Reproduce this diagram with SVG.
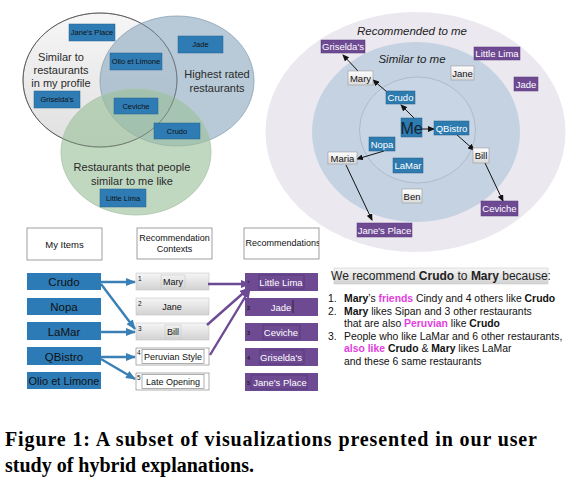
<svg xmlns="http://www.w3.org/2000/svg" width="577" height="495" viewBox="0 0 577 495">
<defs>
<style>
text{font-family:"Liberation Sans",Arial,sans-serif}
.vlab{font-size:11px;fill:#2a2a2a;text-anchor:middle}
.vbox{fill:#2f7bb4;stroke:#26648f;stroke-width:0.5}
.vtxt{font-size:7.5px;fill:#111;text-anchor:middle}
.bbox{fill:#2e7bb0;stroke:#245f88;stroke-width:0.5}
.btxt{font-size:9.5px;fill:#fff;text-anchor:middle}
.pbox{fill:#6e4a93;stroke:#593a7a;stroke-width:0.5}
.ptxt{font-size:9.5px;fill:#fff;text-anchor:middle}
.wbox{fill:url(#wg);stroke:#9a9a9a;stroke-width:0.6}
.wtxt{font-size:9.5px;fill:#111;text-anchor:middle}
.ital{font-size:11.5px;font-style:italic;fill:#222;text-anchor:middle}
.blk{stroke:#111;stroke-width:1;fill:none;marker-end:url(#ak)}
.hdr{fill:#fff;stroke:#888;stroke-width:0.8}
.htxt{font-size:9px;fill:#111;text-anchor:middle}
.item{fill:#2c7bb6}
.itxt{font-size:11.5px;fill:#111;text-anchor:middle}
.ctx{fill:url(#cg);stroke:#bdbdbd;stroke-width:0.5}
.cbtn{fill:none;stroke:#c8c8c8;stroke-width:0.6}
.ctxw{fill:#fff;stroke:#8a8a8a;stroke-width:0.7}
.ctxt{font-size:9px;fill:#111;text-anchor:middle}
.num{font-size:6.5px;fill:#111}
.pnum{font-size:5.5px;fill:#222;font-weight:bold}
.rec{fill:#6d4a92}
.rbtn{fill:none;stroke:#4e3270;stroke-width:0.6}
.barr{stroke:#3a80b4;stroke-width:2.4;fill:none;marker-end:url(#ab)}
.parr{stroke:#6d4a94;stroke-width:2.4;fill:none;marker-end:url(#ap)}
.list{font-size:10.4px;fill:#111}
.b{font-weight:bold}
.m{font-weight:bold;fill:#e23ee0}
.cap{font-family:"Liberation Serif","Times New Roman",serif;font-weight:bold;font-size:20px;fill:#000}
</style>
<linearGradient id="wg" x1="0" y1="0" x2="0" y2="1"><stop offset="0" stop-color="#ffffff"/><stop offset="1" stop-color="#d9d9d9"/></linearGradient>
<linearGradient id="cg" x1="0" y1="0" x2="0" y2="1"><stop offset="0" stop-color="#f6f6f6"/><stop offset="1" stop-color="#d2d2d2"/></linearGradient>
<linearGradient id="g1" x1="0" y1="0" x2="0" y2="1"><stop offset="0" stop-color="#f6f6f6"/><stop offset="1" stop-color="#e0e0e0"/></linearGradient>
<marker id="ak" markerWidth="7" markerHeight="6" refX="6" refY="3" orient="auto" markerUnits="userSpaceOnUse"><path d="M0,0 L7,3 L0,6 z" fill="#111"/></marker>
<marker id="ab" markerWidth="10" markerHeight="8" refX="9" refY="4" orient="auto" markerUnits="userSpaceOnUse"><path d="M0,0 L10,4 L0,8 z" fill="#3a80b4"/></marker>
<marker id="ap" markerWidth="10" markerHeight="8" refX="9" refY="4" orient="auto" markerUnits="userSpaceOnUse"><path d="M0,0 L10,4 L0,8 z" fill="#6d4a94"/></marker>
<clipPath id="hc"><rect x="244" y="228" width="75" height="31"/></clipPath>
</defs>

<!-- Venn diagram -->
<g id="venn">
<ellipse cx="100" cy="80" rx="77" ry="67" fill="url(#g1)" stroke="#666" stroke-width="1"/>
<ellipse cx="177" cy="81" rx="77" ry="65" fill="#93aec4" fill-opacity="0.66" stroke="#8aa0b3" stroke-width="0.8"/>
<ellipse cx="136" cy="152" rx="75" ry="63" fill="#9cc09c" fill-opacity="0.64" stroke="#a9c4a9" stroke-width="0.8"/>
<ellipse cx="100" cy="80" rx="77" ry="67" fill="none" stroke="#555" stroke-width="0.8" stroke-opacity="0.6"/>
<text class="vlab" x="61" y="61">Similar to</text>
<text class="vlab" x="61" y="74">restaurants</text>
<text class="vlab" x="61" y="87">in my profile</text>
<text class="vlab" x="217" y="78">Highest rated</text>
<text class="vlab" x="217" y="92">restaurants</text>
<text class="vlab" x="132" y="171">Restaurants that people</text>
<text class="vlab" x="132" y="185">similar to me like</text>
</g>
<g id="v-janes-place"><rect class="vbox" x="69" y="24" width="46" height="17"/><text class="vtxt" x="92" y="35">Jane's Place</text></g>
<g id="v-jade"><rect class="vbox" x="178" y="36" width="45" height="17"/><text class="vtxt" x="200.5" y="47">Jade</text></g>
<g id="v-olio"><rect class="vbox" x="110" y="53" width="52" height="17"/><text class="vtxt" x="136" y="64">Olio et Limone</text></g>
<g id="v-griselda"><rect class="vbox" x="34" y="91" width="46" height="17"/><text class="vtxt" x="57" y="102">Griselda's</text></g>
<g id="v-ceviche"><rect class="vbox" x="114" y="98" width="44" height="16"/><text class="vtxt" x="136" y="109">Ceviche</text></g>
<g id="v-crudo"><rect class="vbox" x="154" y="123" width="46" height="16"/><text class="vtxt" x="177" y="134">Crudo</text></g>
<g id="v-little-lima"><rect class="vbox" x="100" y="189" width="46" height="18"/><text class="vtxt" x="123" y="201">Little Lima</text></g>

<!-- Social circles -->
<g id="rings">
<ellipse cx="415.5" cy="132" rx="150" ry="120" fill="#ebe8f0"/>
<ellipse cx="416" cy="132" rx="104" ry="90" fill="#c4d2e2"/>
<ellipse cx="417.5" cy="130" rx="58" ry="53" fill="#c8d5e4" stroke="#a8b4c3" stroke-width="0.8"/>
<text class="ital" x="412" y="35">Recommended to me</text>
<text class="ital" x="412" y="63">Similar to me</text>
</g>
<g id="connectors-social">
<line class="blk" x1="387" y1="92" x2="373" y2="80"/>
<line class="blk" x1="358" y1="71" x2="343" y2="55"/>
<line class="blk" x1="414" y1="118" x2="401" y2="105"/>
<line class="blk" x1="422" y1="129" x2="434" y2="129"/>
<line class="blk" x1="456" y1="134" x2="474" y2="150"/>
<line class="blk" x1="485" y1="163" x2="503" y2="201"/>
<line class="blk" x1="384" y1="151" x2="357" y2="159"/>
<line class="blk" x1="346" y1="165" x2="372" y2="220"/>
</g>
<g id="s-griselda"><rect class="pbox" x="321" y="40" width="44" height="13"/><text class="ptxt" x="343" y="50">Griselda's</text></g>
<g id="s-little-lima"><rect class="pbox" x="474" y="47" width="46" height="13"/><text class="ptxt" x="497" y="57">Little Lima</text></g>
<g id="s-jade"><rect class="pbox" x="514" y="77" width="24" height="14"/><text class="ptxt" x="526" y="87.5">Jade</text></g>
<g id="s-jane"><rect class="wbox" x="451" y="66" width="23" height="14"/><text class="wtxt" x="462.5" y="76.5">Jane</text></g>
<g id="s-mary"><rect class="wbox" x="348" y="71" width="25" height="14"/><text class="wtxt" x="360.5" y="81.5">Mary</text></g>
<g id="s-crudo"><rect class="bbox" x="386" y="91" width="29" height="13"/><text class="btxt" x="400.5" y="101">Crudo</text></g>
<g id="s-me"><rect class="bbox" x="401" y="118" width="21" height="19"/><text x="411.5" y="133.5" style="font-size:16px;fill:#142436;text-anchor:middle">Me</text></g>
<g id="s-qbistro"><rect class="bbox" x="434" y="121" width="35" height="14"/><text class="btxt" x="451.5" y="131.5">QBistro</text></g>
<g id="s-nopa"><rect class="bbox" x="369" y="137" width="26" height="14"/><text class="btxt" x="382" y="147.5">Nopa</text></g>
<g id="s-lamar"><rect class="bbox" x="393" y="158" width="30" height="15"/><text class="btxt" x="408" y="169">LaMar</text></g>
<g id="s-maria"><rect class="wbox" x="328" y="152" width="29" height="12"/><text class="wtxt" x="342.5" y="161.5">Maria</text></g>
<g id="s-bill"><rect class="wbox" x="473" y="148" width="16" height="15"/><text class="wtxt" x="481" y="159">Bill</text></g>
<g id="s-ben"><rect class="wbox" x="402" y="189" width="20" height="14"/><text class="wtxt" x="412" y="199.5">Ben</text></g>
<g id="s-ceviche"><rect class="pbox" x="481" y="201" width="37" height="15"/><text class="ptxt" x="499.5" y="212">Ceviche</text></g>
<g id="s-janes-place"><rect class="pbox" x="357" y="223" width="55" height="14"/><text class="ptxt" x="384.5" y="233.5">Jane's Place</text></g>

<!-- Bottom-left: items, contexts, recommendations -->
<g id="h-my-items"><rect class="hdr" x="27" y="228" width="75" height="32"/><text class="htxt" x="64.5" y="247.5" style="font-size:9.5px">My Items</text></g>
<g id="h-contexts"><rect class="hdr" x="137" y="228" width="75" height="31"/><text class="htxt" x="174.5" y="241">Recommendation</text><text class="htxt" x="174.5" y="252">Contexts</text></g>
<g id="h-recs"><rect class="hdr" x="244" y="228" width="75" height="31"/><text class="htxt" x="245.5" y="246" clip-path="url(#hc)" style="text-anchor:start">Recommendations</text></g>

<g id="i-crudo"><rect class="item" x="27" y="273" width="74" height="17"/><text class="itxt" x="64" y="286">Crudo</text></g>
<g id="i-nopa"><rect class="item" x="27" y="298" width="74" height="17"/><text class="itxt" x="64" y="311">Nopa</text></g>
<g id="i-lamar"><rect class="item" x="27" y="322" width="74" height="18"/><text class="itxt" x="64" y="335.5">LaMar</text></g>
<g id="i-qbistro"><rect class="item" x="27" y="347" width="74" height="18"/><text class="itxt" x="64" y="360.5">QBistro</text></g>
<g id="i-olio"><rect class="item" x="27" y="372" width="74" height="17"/><text class="itxt" x="64" y="385" style="font-size:11px">Olio et Limone</text></g>

<g id="c-mary"><rect class="ctx" x="136" y="273" width="73" height="17"/><rect class="cbtn" x="161" y="275" width="24" height="13"/><text class="num" x="138" y="281">1</text><text class="ctxt" x="173" y="285">Mary</text></g>
<g id="c-jane"><rect class="ctx" x="136" y="298" width="73" height="17"/><text class="num" x="138" y="306">2</text><text class="ctxt" x="172" y="310">Jane</text></g>
<g id="c-bill"><rect class="ctx" x="136" y="323" width="73" height="17"/><rect class="cbtn" x="165" y="325" width="16" height="13"/><text class="num" x="138" y="331">3</text><text class="ctxt" x="173" y="335">Bill</text></g>
<g id="c-peruvian"><rect class="ctxw" x="136" y="348" width="73" height="17"/><rect class="ctxw" x="142" y="349.5" width="62" height="14"/><text class="num" x="137" y="355">4</text><text class="ctxt" x="173" y="360">Peruvian Style</text></g>
<g id="c-late"><rect class="ctxw" x="136" y="373" width="73" height="17"/><rect class="ctxw" x="142" y="374.5" width="62" height="14"/><text class="num" x="137" y="380">5</text><text class="ctxt" x="173" y="385">Late Opening</text></g>

<g id="r-little-lima"><rect class="rec" x="245" y="273" width="73" height="18"/><rect class="rbtn" x="259" y="275" width="45" height="14"/><text class="pnum" x="247" y="285">1</text><text class="ptxt" x="281" y="285.5">Little Lima</text></g>
<g id="r-jade"><rect class="rec" x="245" y="298" width="73" height="18"/><line x1="293" y1="300" x2="293" y2="313" stroke="#222" stroke-width="0.8"/><text class="pnum" x="247" y="310">2</text><text class="ptxt" x="281" y="310.5">Jade</text></g>
<g id="r-ceviche"><rect class="rec" x="245" y="323" width="73" height="18"/><rect class="rbtn" x="263" y="325" width="37" height="14"/><text class="pnum" x="247" y="335">3</text><text class="ptxt" x="281" y="335.5">Ceviche</text></g>
<g id="r-griselda"><rect class="rec" x="245" y="348" width="73" height="18"/><rect class="rbtn" x="260" y="350" width="44" height="14"/><text class="pnum" x="247" y="360">4</text><text class="ptxt" x="281" y="360.5">Griselda's</text></g>
<g id="r-janes-place"><rect class="rec" x="245" y="373" width="73" height="18"/><rect class="rbtn" x="251" y="375" width="56" height="14"/><text class="pnum" x="247" y="385">5</text><text class="ptxt" x="280" y="385.5">Jane's Place</text></g>

<g id="connectors-list">
<line class="barr" x1="100" y1="282" x2="135" y2="282"/>
<line class="barr" x1="101" y1="284" x2="135" y2="329"/>
<line class="barr" x1="100" y1="332" x2="135" y2="332"/>
<line class="barr" x1="100" y1="357" x2="135" y2="357"/>
<line class="barr" x1="101" y1="359" x2="135" y2="379"/>
<line class="parr" x1="208" y1="284" x2="250" y2="284"/>
<line class="parr" x1="207" y1="325" x2="249" y2="288"/>
<line class="parr" x1="210" y1="355" x2="250" y2="289"/>
</g>

<!-- Explanation text -->
<g id="explanation">
<rect x="334" y="268" width="214" height="16" fill="url(#cg)" stroke="#c4c4c4" stroke-width="0.5"/>
<text x="441" y="280" style="font-size:12px;fill:#222;text-anchor:middle">We recommend <tspan class="b">Crudo</tspan> to <tspan class="b">Mary</tspan> because:</text>
<text class="list" x="328" y="302">1.</text>
<text class="list" x="344" y="302"><tspan class="b">Mary</tspan>’s <tspan class="m">friends</tspan> Cindy and 4 others like <tspan class="b">Crudo</tspan></text>
<text class="list" x="328" y="314.5">2.</text>
<text class="list" x="344" y="314.5"><tspan class="b">Mary</tspan> likes Sipan and 3 other restaurants</text>
<text class="list" x="344" y="327">that are also <tspan class="m">Peruvian</tspan> like <tspan class="b">Crudo</tspan></text>
<text class="list" x="328" y="339.5">3.</text>
<text class="list" x="344" y="339.5">People who like LaMar and 6 other restaurants,</text>
<text class="list" x="344" y="352"><tspan class="m">also like</tspan> <tspan class="b">Crudo</tspan> &amp; <tspan class="b">Mary</tspan> likes LaMar</text>
<text class="list" x="344" y="364.5">and these 6 same restaurants</text>
</g>

<!-- Caption -->
<g id="caption">
<text class="cap" x="5" y="446" textLength="532" lengthAdjust="spacing">Figure 1: A subset of visualizations presented in our user</text>
<text class="cap" x="5" y="472">study of hybrid explanations.</text>
</g>
</svg>
